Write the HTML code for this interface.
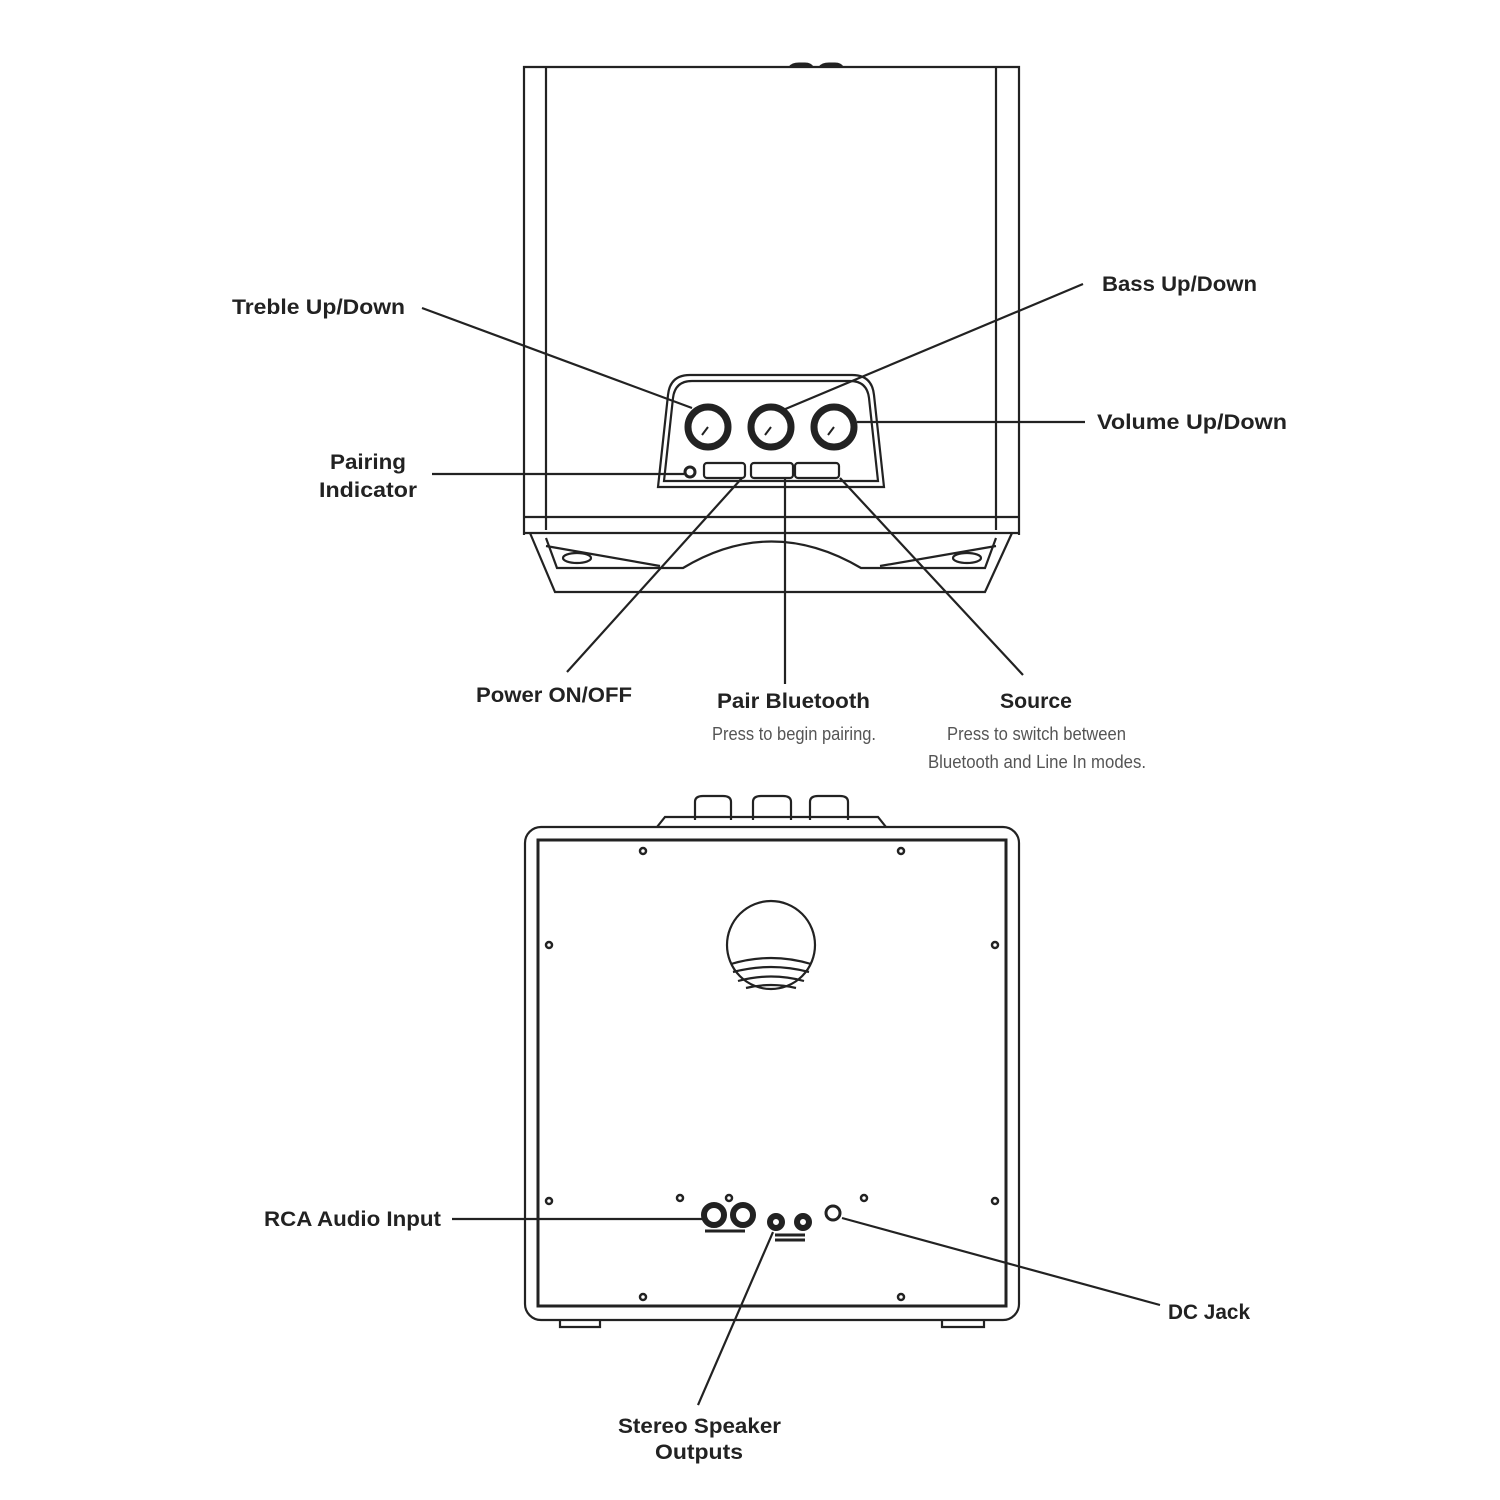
<!DOCTYPE html>
<html><head><meta charset="utf-8"><style>
html,body{margin:0;padding:0;background:#fff}
svg{display:block}
.l{font-family:"Liberation Sans",sans-serif;font-weight:bold;font-size:21px;fill:#222}
.s{font-family:"Liberation Sans Narrow","Liberation Sans",sans-serif;font-size:18px;fill:#555}
</style></head><body>
<svg width="1500" height="1500" viewBox="0 0 1500 1500" xmlns="http://www.w3.org/2000/svg">
<g fill="none" stroke="#222" stroke-width="2.2">
<path d="M524,535 V67 H1019 V535"/>
<path d="M546,67 V530 M996,67 V530"/>
<path d="M789,67 q3,-4 10,-4 h6 q6,0 8,4 Z M819,67 q3,-4 10,-4 h6 q6,0 8,4 Z" fill="#222" stroke-width="1"/>
<path d="M524,517 H1019 M524,533 H1019"/>
<path d="M530,533 L555,592 H985 L1012,533"/>
<path d="M546,538 L557,568 H683 Q771,515 861,568 H985 L996,538"/>
<path d="M546,546 L660,566 M996,546 L880,566"/>
<ellipse cx="577" cy="558" rx="14" ry="5"/>
<ellipse cx="967" cy="558" rx="14" ry="5"/>
<path d="M658,487 L668,395 Q670,375 690,375 H852 Q872,375 874,395 L884,487 Z" fill="#fff"/>
<path d="M664,481 L673,398 Q675,381 692,381 H850 Q867,381 869,398 L878,481 Z"/>
<g stroke-width="7"><circle cx="708" cy="427" r="20"/><circle cx="771" cy="427" r="20"/><circle cx="834" cy="427" r="20"/></g>
<g stroke-width="2"><path d="M708,427 l-6,8 M771,427 l-6,8 M834,427 l-6,8"/></g>
<rect x="704" y="463" width="41" height="15" rx="3"/>
<rect x="751" y="463" width="42" height="15" rx="3"/>
<rect x="795" y="463" width="44" height="15" rx="3"/>
<circle cx="690" cy="472" r="5" stroke-width="3"/>
<path d="M422,308 L692,408 M1083,284 L783,410 M857,422 H1085 M432,474 H684 M567,672 L742,478 M785,478 V684 M840,478 L1023,675"/>
<path d="M657,827 L665,817 H878 L886,827"/>
<path d="M695,820 V802 q0,-6 8,-6 h20 q8,0 8,6 V820 M753,820 V802 q0,-6 8,-6 h22 q8,0 8,6 V820 M810,820 V802 q0,-6 8,-6 h22 q8,0 8,6 V820"/>
<rect x="525" y="827" width="494" height="493" rx="16"/>
<rect x="538" y="840" width="468" height="466" stroke-width="3"/>
<circle cx="771" cy="945" r="44"/>
<path d="M731,964 Q771,952 811,964 M733,972 Q771,962 809,972 M738,981 Q771,972 804,981 M746,988 Q771,982 796,988"/>
<g stroke-width="2.5">
<circle cx="643" cy="851" r="3"/><circle cx="901" cy="851" r="3"/>
<circle cx="549" cy="945" r="3"/><circle cx="995" cy="945" r="3"/>
<circle cx="549" cy="1201" r="3"/><circle cx="995" cy="1201" r="3"/>
<circle cx="643" cy="1297" r="3"/><circle cx="901" cy="1297" r="3"/>
<circle cx="680" cy="1198" r="3"/><circle cx="864" cy="1198" r="3"/>
<circle cx="729" cy="1198" r="3"/>
</g>
<path d="M560,1320 v7 h40 v-7 M942,1320 v7 h42 v-7"/>
<g stroke-width="6"><circle cx="714" cy="1215" r="10"/><circle cx="743" cy="1215" r="10"/><circle cx="776" cy="1222" r="6"/><circle cx="803" cy="1222" r="6"/></g>
<circle cx="833" cy="1213" r="7" stroke-width="3"/>
<path d="M705,1231 h40 M775,1235 h30 M775,1240 h30" stroke-width="3"/>
<path d="M452,1219 H704 M698,1405 L773,1232 M842,1218 L1160,1305"/>
</g>
<text class="l" x="232" y="314" textLength="173" lengthAdjust="spacingAndGlyphs">Treble Up/Down</text>
<text class="l" x="1102" y="291" textLength="155" lengthAdjust="spacingAndGlyphs">Bass Up/Down</text>
<text class="l" x="1097" y="429" textLength="190" lengthAdjust="spacingAndGlyphs">Volume Up/Down</text>
<text class="l" x="330" y="469" textLength="76" lengthAdjust="spacingAndGlyphs">Pairing</text>
<text class="l" x="319" y="497" textLength="98" lengthAdjust="spacingAndGlyphs">Indicator</text>
<text class="l" x="476" y="702" textLength="156" lengthAdjust="spacingAndGlyphs">Power ON/OFF</text>
<text class="l" x="717" y="708" textLength="153" lengthAdjust="spacingAndGlyphs">Pair Bluetooth</text>
<text class="s" x="712" y="740" textLength="164" lengthAdjust="spacingAndGlyphs">Press to begin pairing.</text>
<text class="l" x="1000" y="708" textLength="72" lengthAdjust="spacingAndGlyphs">Source</text>
<text class="s" x="947" y="740" textLength="179" lengthAdjust="spacingAndGlyphs">Press to switch between</text>
<text class="s" x="928" y="768" textLength="218" lengthAdjust="spacingAndGlyphs">Bluetooth and Line In modes.</text>
<text class="l" x="264" y="1226" textLength="177" lengthAdjust="spacingAndGlyphs">RCA Audio Input</text>
<text class="l" x="1168" y="1319" textLength="82" lengthAdjust="spacingAndGlyphs">DC Jack</text>
<text class="l" x="618" y="1433" textLength="163" lengthAdjust="spacingAndGlyphs">Stereo Speaker</text>
<text class="l" x="655" y="1459" textLength="88" lengthAdjust="spacingAndGlyphs">Outputs</text>
</svg>
</body></html>
